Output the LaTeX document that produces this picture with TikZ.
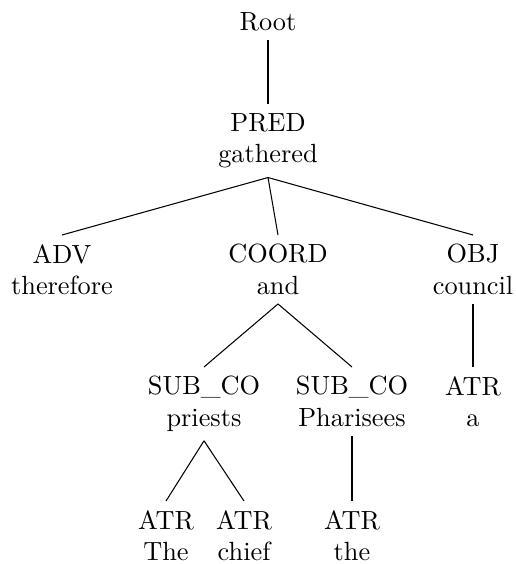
\documentclass[tikz,border=0pt]{standalone}
\usepackage{tikz}

\begin{document}
\begin{tikzpicture}[x=0.3802pt, y=-0.3802pt, tok/.style={align=center, anchor=north}]
    \useasboundingbox (0,0) rectangle (515,564);

    % Root and predicate
    \node[tok] (root) at (268,3) {Root};
    \node[tok] (pred) at (268,104) {PRED\\gathered};

    % Dependents of the predicate
    \node[tok] (adv) at (62,235) {ADV\\therefore};
    \node[tok] (coord) at (278,235) {COORD\\and};
    \node[tok] (obj) at (473,235) {OBJ\\council};

    % Coordinated subjects and object attribute
    \node[tok] (subA) at (204,367) {SUB\_CO\\priests};
    \node[tok] (subB) at (352,367) {SUB\_CO\\Pharisees};
    \node[tok] (atrA) at (473,367) {ATR\\a};

    % Attributes of the subjects
    \node[tok] (atrB) at (166,501) {ATR\\The};
    \node[tok] (atrC) at (244,501) {ATR\\chief};
    \node[tok] (atrD) at (352,501) {ATR\\the};

    % Arcs
    \draw (root.south) -- (pred.north);
    \draw (pred.south) -- (adv.north);
    \draw (pred.south) -- (coord.north);
    \draw (pred.south) -- (obj.north);
    \draw (coord.south) -- (subA.north);
    \draw (coord.south) -- (subB.north);
    \draw (obj.south) -- (atrA.north);
    \draw (subA.south) -- (atrB.north);
    \draw (subA.south) -- (atrC.north);
    \draw (subB.south) -- (atrD.north);
\end{tikzpicture}
\end{document}
